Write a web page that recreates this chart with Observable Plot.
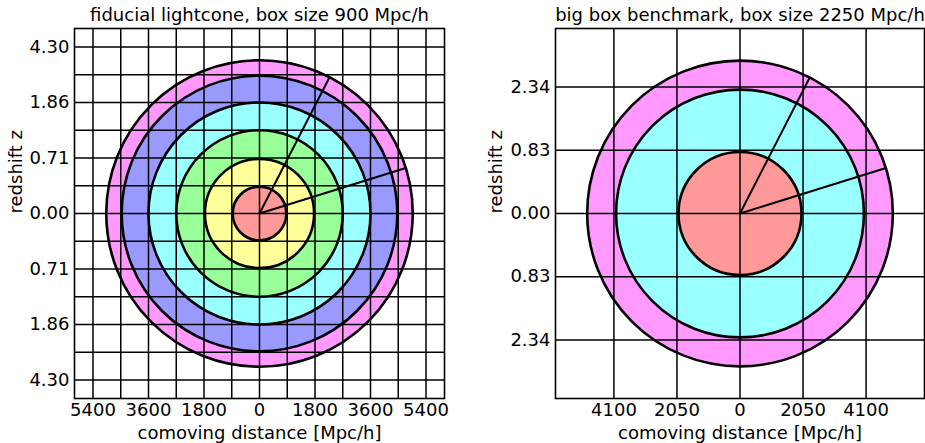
<!DOCTYPE html>
<html>
<head>
<meta charset="utf-8">
<script src="https://cdn.jsdelivr.net/npm/d3@7"></script>
<script src="https://cdn.jsdelivr.net/npm/@observablehq/plot@0.6"></script>
<style>
  html, body { margin: 0; padding: 0; background: white; }
  #wrap { position: relative; width: 925px; height: 443px; overflow: hidden; background: white; }
  #wrap svg { position: absolute; top: 0; }
</style>
</head>
<body>
<div id="wrap"></div>
<script>
// ---- data ----
const leftTitle = "fiducial lightcone, box size 900 Mpc/h";
const rightTitle = "big box benchmark, box size 2250 Mpc/h";
const xLabel = "comoving distance [Mpc/h]";
const yLabel = "redshift z";

// shell radii (comoving distance, Mpc/h), outermost first
const leftRadii = [4970, 4470, 3600, 2700, 1770, 870];
const leftColors = ["#ff99ff", "#9999ff", "#99ffff", "#99ff99", "#ffff99", "#ff9999"];
const rightRadii = [4970, 4030, 2000];
const rightColors = ["#ff99ff", "#99ffff", "#ff9999"];

// opening angles of the lightcone wedge (degrees)
const coneAngles = [17.3, 62.8];
const coneRadius = 4970;

// grid lines
const leftGrid = [-5400, -4500, -3600, -2700, -1800, -900, 0, 900, 1800, 2700, 3600, 4500, 5400];
const rightGrid = [-4100, -2050, 0, 2050, 4100];

// ticks
const leftXTicks = [-5400, -3600, -1800, 0, 1800, 3600, 5400];
const leftYTicks = [-5400, -3600, -1800, 0, 1800, 3600, 5400];
const leftYLabels = ["4.30", "1.86", "0.71", "0.00", "0.71", "1.86", "4.30"];
const rightXTicks = [-4100, -2050, 0, 2050, 4100];
const rightYTicks = [-4100, -2050, 0, 2050, 4100];
const rightYLabels = ["2.34", "0.83", "0.00", "0.83", "2.34"];

const domain = [-6000, 6000];

function panel({title, radii, colors, grid, xTicks, yTicks, yLabels, left, width, mLeft, mRight, yLabelDx}) {
  const height = 443, mTop = 28, mBottom = 45;
  const frameW = width - mLeft - mRight;
  const shells = radii.map((r, i) => ({r, color: colors[i]}));
  const yMap = new Map(yTicks.map((t, i) => [t, yLabels[i]]));
  const fs = 18;
  const svg = Plot.plot({
    width, height,
    marginLeft: mLeft, marginRight: mRight, marginTop: mTop, marginBottom: mBottom,
    style: {fontFamily: "DejaVu Sans", fontSize: fs + "px", background: "white", overflow: "visible", color: "black"},
    x: {domain, axis: null},
    y: {domain, axis: null},
    r: {type: "linear", domain: [0, 6000], range: [0, frameW / 2]},
    color: {type: "identity"},
    marks: [
      Plot.dot(shells, {x: () => 0, y: () => 0, r: "r", fill: "color", fillOpacity: 1, stroke: "black", strokeWidth: 2.6}),
      Plot.ruleX(grid, {stroke: "black", strokeWidth: 1.5}),
      Plot.ruleY(grid, {stroke: "black", strokeWidth: 1.5}),
      Plot.link(coneAngles, {
        x1: () => 0, y1: () => 0,
        x2: a => coneRadius * Math.cos(a * Math.PI / 180),
        y2: a => coneRadius * Math.sin(a * Math.PI / 180),
        stroke: "black", strokeWidth: 2
      }),
      Plot.frame({stroke: "black", strokeWidth: 1.6}),
      Plot.axisX(xTicks, {tickSize: 0, tickPadding: 5, tickFormat: d => String(Math.abs(d)), fontSize: fs, label: null}),
      Plot.axisY(yTicks, {tickSize: 0, tickPadding: 5, tickFormat: d => yMap.get(d), fontSize: fs, label: null}),
      Plot.text([xLabel], {frameAnchor: "bottom", text: d => d, dy: 34.5, fontSize: fs, lineAnchor: "middle"}),
      Plot.text([yLabel], {frameAnchor: "left", text: d => d, dx: yLabelDx, rotate: -90, fontSize: fs, lineAnchor: "middle"}),
      Plot.text([title], {frameAnchor: "top", text: d => d, dy: -13, fontSize: fs, lineAnchor: "middle"})
    ]
  });
  svg.style.left = left + "px";
  return svg;
}

const wrap = document.getElementById("wrap");
wrap.appendChild(panel({
  title: leftTitle, radii: leftRadii, colors: leftColors, grid: leftGrid,
  xTicks: leftXTicks, yTicks: leftYTicks, yLabels: leftYLabels,
  left: 0, width: 462, mLeft: 74, mRight: 18, yLabelDx: -58
}));
wrap.appendChild(panel({
  title: rightTitle, radii: rightRadii, colors: rightColors, grid: rightGrid,
  xTicks: rightXTicks, yTicks: rightYTicks, yLabels: rightYLabels,
  left: 462, width: 463, mLeft: 93, mRight: 1, yLabelDx: -59
}));
</script>
</body>
</html>
